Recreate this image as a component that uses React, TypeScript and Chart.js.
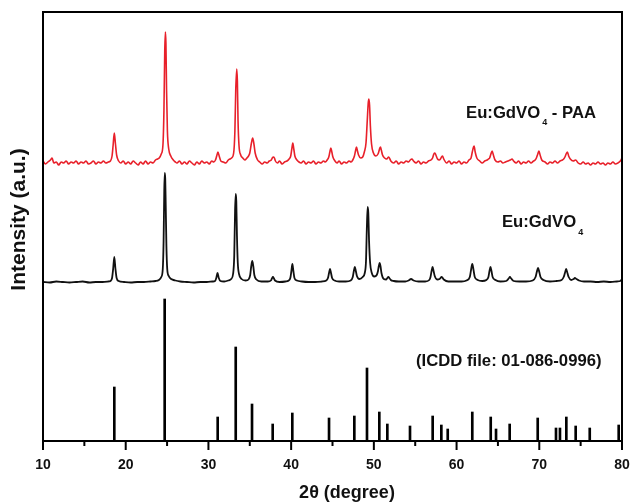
import { useEffect, useRef } from 'react';
import { Chart, registerables } from 'chart.js';

Chart.register(...registerables);

// ---------- axis ----------
const thetaMin = 10;
const thetaMax = 80;
const thetaStep = 10;
const minorTicks = [15, 25, 35, 45, 55, 65, 75];
const intensityMax = 429;

// ---------- reference pattern (ICDD 01-086-0996) ----------
const stickTheta = [18.62, 24.71, 31.12, 33.3, 35.27, 37.77, 40.14, 44.58, 47.64, 49.17, 50.66, 51.63, 54.37, 57.11, 58.16, 58.93, 61.9, 64.13, 64.77, 66.42, 69.81, 72.02, 72.5, 73.27, 74.4, 76.1, 79.6];
const stickIntensity = [54, 142, 24, 94, 37, 17, 28, 23, 25, 73, 29, 17, 15, 25, 16, 12, 29, 24, 12, 17, 23, 13, 13, 24, 15, 13, 16];

// ---------- Eu:GdVO4 (black) ----------
const gdvoPattern: [number, number][] = [
  [10.0, 159], [10.8, 158.5], [11.6, 159.5], [12.4, 159], [13.2, 158.5], [14.0, 159], [14.8, 159.5], [15.6, 158.5], [16.4, 159], [17.2, 159], [17.9, 159.5],
  [18.15, 160], [18.35, 163], [18.48, 172], [18.62, 184], [18.76, 172], [18.9, 163], [19.15, 160],
  [19.8, 159], [20.6, 158.5], [21.4, 159], [22.2, 159], [23.0, 159.5], [23.6, 160],
  [24.0, 161], [24.3, 164], [24.48, 172], [24.58, 200], [24.66, 250], [24.72, 268], [24.78, 262], [24.84, 235], [24.92, 195], [25.02, 172], [25.2, 165], [25.5, 162], [26.0, 160.5],
  [26.6, 159.5], [27.4, 159], [28.2, 158.5], [29.0, 159], [29.8, 159], [30.5, 159.5],
  [30.8, 160], [30.95, 163], [31.1, 168], [31.25, 163], [31.45, 160],
  [31.9, 159.5], [32.4, 160.5],
  [32.75, 162], [32.98, 167], [33.12, 185], [33.22, 230], [33.3, 247], [33.37, 240], [33.45, 205], [33.55, 178], [33.7, 167], [34.0, 162],
  [34.5, 160.5], [34.85, 161.5],
  [35.05, 166], [35.18, 175], [35.3, 180], [35.42, 175], [35.55, 166], [35.8, 161.5],
  [36.4, 159.5], [37.2, 159.5],
  [37.55, 160.5], [37.68, 162.5], [37.8, 164], [37.92, 162.5], [38.05, 160.5],
  [38.6, 159], [39.3, 159.5], [39.7, 160.5],
  [39.9, 163], [40.03, 170], [40.15, 177], [40.27, 170], [40.4, 163], [40.7, 160.5],
  [41.3, 159.5], [42.1, 159], [42.9, 159], [43.7, 159.5], [44.25, 160.5],
  [44.45, 163], [44.58, 168], [44.7, 172], [44.82, 168], [44.95, 163], [45.25, 160.5],
  [45.8, 159.5], [46.6, 159.5], [47.2, 160.5],
  [47.45, 164], [47.58, 170], [47.7, 174], [47.82, 170], [47.95, 165], [48.25, 162], [48.65, 164],
  [48.9, 168], [49.05, 180], [49.15, 212], [49.25, 234], [49.33, 228], [49.42, 200], [49.55, 178], [49.75, 168], [50.05, 164.5], [50.35, 166],
  [50.5, 170], [50.6, 175], [50.7, 178], [50.8, 175], [50.92, 168], [51.2, 162],
  [51.5, 161.5], [51.63, 163], [51.75, 164], [51.87, 163], [52.05, 161], [52.4, 160],
  [53.0, 159.5], [53.8, 159.5], [54.2, 160.5], [54.5, 162], [54.8, 160.5],
  [55.4, 159.5], [56.2, 159.5], [56.7, 161],
  [56.85, 164], [56.98, 170], [57.1, 174], [57.22, 170], [57.36, 165], [57.65, 161.5], [57.95, 162], [58.2, 164], [58.45, 161.5],
  [59.0, 159.5], [59.8, 159.5], [60.6, 159.5], [61.2, 160.5],
  [61.6, 164], [61.75, 171], [61.9, 177], [62.05, 171], [62.2, 164], [62.55, 161],
  [63.1, 160], [63.6, 161],
  [63.85, 164], [63.98, 170], [64.1, 174], [64.22, 170], [64.36, 164], [64.7, 161],
  [65.3, 159.5], [66.0, 160], [66.3, 162.5], [66.45, 164], [66.6, 162.5], [66.9, 160],
  [67.6, 159.5], [68.4, 159.5], [69.2, 160.5],
  [69.55, 164], [69.7, 169], [69.85, 173], [70.0, 169], [70.15, 164], [70.5, 161],
  [71.3, 159.5], [72.1, 160], [72.7, 161],
  [72.95, 164], [73.1, 168], [73.25, 172], [73.4, 168], [73.55, 164], [73.85, 161], [74.15, 162], [74.3, 163], [74.5, 162], [74.8, 160.5],
  [75.4, 159.5], [76.2, 159.5], [77.0, 159], [77.8, 159.5], [78.6, 159], [79.4, 159.5], [79.8, 160], [80.0, 162],
];

// ---------- Eu:GdVO4 - PAA (red) ----------
const gdvoPaaPattern: [number, number][] = [
  [10.0, 280], [10.3, 277], [10.6, 279], [10.9, 281], [11.1, 283], [11.3, 278], [11.6, 279], [11.9, 276], [12.2, 279], [12.5, 278], [12.8, 280], [13.1, 277], [13.4, 279], [13.7, 278], [14.0, 280], [14.3, 277], [14.6, 279], [14.9, 278], [15.2, 280], [15.5, 277], [15.8, 278], [16.1, 280], [16.4, 277], [16.7, 279], [17.0, 278], [17.3, 280], [17.6, 278], [17.9, 279],
  [18.15, 280], [18.35, 285], [18.48, 296], [18.62, 308], [18.76, 297], [18.9, 286], [19.15, 280],
  [19.4, 278], [19.7, 280], [20.0, 277], [20.3, 279], [20.6, 277], [20.9, 280], [21.2, 278], [21.5, 276], [21.8, 279], [22.1, 277], [22.4, 280], [22.7, 277], [23.0, 279], [23.3, 278], [23.6, 281], [23.85, 282],
  [24.05, 283], [24.3, 287], [24.5, 296], [24.62, 330], [24.72, 390], [24.8, 409], [24.86, 398], [24.94, 350], [25.04, 310], [25.2, 292], [25.45, 285], [25.75, 281],
  [26.0, 279], [26.2, 278], [26.5, 280], [26.8, 277], [27.1, 279], [27.4, 277], [27.7, 280], [28.0, 278], [28.3, 276], [28.6, 279], [28.9, 277], [29.2, 280], [29.5, 278], [29.8, 279], [30.1, 277], [30.4, 280], [30.65, 279],
  [30.85, 281], [31.0, 285], [31.15, 289], [31.3, 285], [31.5, 280],
  [31.8, 279], [32.1, 278], [32.4, 281], [32.6, 282],
  [32.8, 283], [33.05, 288], [33.2, 310], [33.3, 350], [33.42, 372], [33.5, 360], [33.58, 320], [33.7, 295], [33.9, 286], [34.15, 283],
  [34.4, 281], [34.65, 283], [34.85, 285],
  [35.0, 288], [35.2, 298], [35.35, 303], [35.5, 297], [35.65, 288], [35.95, 281],
  [36.2, 279], [36.5, 277], [36.8, 279], [37.1, 278], [37.35, 280],
  [37.6, 281], [37.72, 283], [37.85, 284], [37.98, 283], [38.1, 280],
  [38.35, 278], [38.6, 280], [38.9, 277], [39.2, 279], [39.5, 280], [39.75, 282],
  [39.95, 285], [40.08, 292], [40.2, 298], [40.32, 292], [40.45, 285], [40.7, 281],
  [40.95, 279], [41.2, 278], [41.5, 280], [41.8, 277], [42.1, 279], [42.4, 278], [42.7, 280], [43.0, 277], [43.3, 279], [43.6, 278], [43.9, 280], [44.15, 279], [44.35, 281],
  [44.55, 284], [44.68, 289], [44.8, 293], [44.92, 289], [45.05, 284], [45.3, 280],
  [45.55, 278], [45.8, 280], [46.1, 277], [46.4, 279], [46.7, 278], [47.0, 280], [47.25, 279], [47.45, 281],
  [47.65, 285], [47.78, 290], [47.9, 294], [48.02, 290], [48.15, 286], [48.4, 283], [48.65, 284], [48.85, 289],
  [49.05, 298], [49.2, 320], [49.32, 338], [49.4, 342], [49.48, 336], [49.58, 315], [49.72, 297], [49.95, 288], [50.25, 285], [50.5, 287],
  [50.62, 290], [50.72, 293], [50.8, 294], [50.9, 291], [51.05, 286], [51.3, 283], [51.55, 282], [51.8, 284], [52.05, 280],
  [52.4, 278], [52.7, 280], [53.0, 277], [53.3, 279], [53.6, 278], [53.9, 280], [54.2, 279], [54.4, 281], [54.6, 282], [54.8, 280], [55.1, 278], [55.4, 280], [55.7, 277], [56.0, 279], [56.3, 278], [56.6, 280], [56.9, 281],
  [57.1, 283], [57.25, 287], [57.38, 288], [57.5, 286], [57.7, 282], [57.9, 281], [58.05, 282], [58.18, 284], [58.3, 285], [58.45, 282],
  [58.8, 278], [59.1, 280], [59.4, 277], [59.7, 279], [60.0, 278], [60.3, 280], [60.6, 277], [60.9, 279], [61.2, 278], [61.5, 281],
  [61.75, 283], [61.9, 289], [62.05, 294], [62.12, 295], [62.25, 289], [62.45, 283],
  [62.8, 280], [63.1, 278], [63.4, 280], [63.7, 281], [63.85, 282],
  [64.0, 283], [64.15, 287], [64.3, 290], [64.45, 286], [64.65, 281],
  [65.0, 279], [65.3, 280], [65.6, 278], [65.9, 279], [66.2, 280], [66.5, 281], [66.7, 282], [66.9, 280],
  [67.2, 278], [67.5, 280], [67.8, 277], [68.1, 279], [68.4, 278], [68.7, 280], [69.0, 278], [69.3, 280], [69.5, 281],
  [69.65, 283], [69.82, 287], [69.96, 290], [70.1, 286], [70.3, 281],
  [70.7, 279], [71.0, 277], [71.3, 279], [71.6, 278], [71.9, 280], [72.2, 278], [72.5, 280], [72.8, 281], [72.95, 282],
  [73.1, 284], [73.25, 287], [73.4, 289], [73.55, 285], [73.75, 282], [74.1, 280], [74.4, 281],
  [74.7, 278], [75.0, 277], [75.3, 279], [75.6, 277], [75.9, 278], [76.2, 276], [76.5, 278], [76.8, 277], [77.1, 279], [77.4, 277], [77.7, 278], [78.0, 276], [78.3, 278], [78.6, 277], [78.9, 279], [79.2, 277], [79.5, 278], [79.8, 280], [80.0, 283],
];

// ---------- text ----------
const xTitle = '2θ (degree)';
const yTitle = 'Intensity (a.u.)';
type Part = { text: string; sub: boolean };
const annotations: { parts: Part[]; theta: number; value: number }[] = [
  { parts: [{ text: 'Eu:GdVO', sub: false }, { text: '4', sub: true }, { text: ' - PAA', sub: false }], theta: 61.14, value: 328 },
  { parts: [{ text: 'Eu:GdVO', sub: false }, { text: '4', sub: true }], theta: 65.49, value: 218.3 },
  { parts: [{ text: '(ICDD file: 01-086-0996)', sub: false }], theta: 55.1, value: 79.3 },
];

const FONT = 'Arial, "Liberation Sans", Helvetica, sans-serif';
const TEXT_COLOR = '#111';

const xrdPlugin = {
  id: 'xrdDecor',
  afterDraw(chart: any) {
    const { ctx, chartArea } = chart;
    const xs = chart.scales.x;
    const ys = chart.scales.y;
    ctx.save();
    // frame
    ctx.strokeStyle = '#000';
    ctx.lineWidth = 2;
    ctx.strokeRect(chartArea.left, chartArea.top, chartArea.right - chartArea.left, chartArea.bottom - chartArea.top);
    // major ticks (from the scale) and minor ticks
    xs.ticks.forEach((t: any) => {
      const px = xs.getPixelForValue(t.value);
      ctx.beginPath();
      ctx.moveTo(px, chartArea.bottom);
      ctx.lineTo(px, chartArea.bottom + 9);
      ctx.stroke();
    });
    minorTicks.forEach((v) => {
      const px = xs.getPixelForValue(v);
      ctx.beginPath();
      ctx.moveTo(px, chartArea.bottom);
      ctx.lineTo(px, chartArea.bottom + 5);
      ctx.stroke();
    });
    // annotations
    ctx.fillStyle = TEXT_COLOR;
    ctx.textBaseline = 'middle';
    ctx.textAlign = 'left';
    annotations.forEach((a) => {
      let px = xs.getPixelForValue(a.theta);
      const py = ys.getPixelForValue(a.value);
      a.parts.forEach((p) => {
        ctx.font = p.sub ? `bold 9px ${FONT}` : `bold 16.7px ${FONT}`;
        ctx.fillText(p.text, px + (p.sub ? 2 : 0), p.sub ? py + 9.5 : py);
        px += ctx.measureText(p.text).width + (p.sub ? 2 : 0);
      });
    });
    // axis titles
    ctx.font = `bold 18px ${FONT}`;
    ctx.textAlign = 'center';
    ctx.fillText(xTitle, 347, 493);
    ctx.translate(19.5, 219.5);
    ctx.rotate(-Math.PI / 2);
    ctx.font = `bold 21px ${FONT}`;
    ctx.fillText(yTitle, 0, 0);
    ctx.restore();
  },
};

export default function App() {
  const ref = useRef<HTMLCanvasElement | null>(null);

  useEffect(() => {
    document.body.style.margin = '0';
    const canvas = ref.current;
    if (!canvas) return;
    const chart = new Chart(canvas, {
      type: 'line',
      data: {
        datasets: [
          {
            type: 'line',
            label: 'Eu:GdVO4 - PAA',
            data: gdvoPaaPattern.map(([x, y]) => ({ x, y })),
            borderColor: '#e8202a',
            borderWidth: 1.6,
            pointRadius: 0,
            cubicInterpolationMode: 'monotone',
            fill: false,
          },
          {
            type: 'line',
            label: 'Eu:GdVO4',
            data: gdvoPattern.map(([x, y]) => ({ x, y })),
            borderColor: '#111',
            borderWidth: 1.8,
            pointRadius: 0,
            cubicInterpolationMode: 'monotone',
            fill: false,
          },
          {
            type: 'bar',
            label: 'ICDD 01-086-0996',
            data: stickTheta.map((x, i) => ({ x, y: stickIntensity[i] })),
            backgroundColor: '#000',
            borderWidth: 0,
            barThickness: 2,
          } as any,
        ],
      },
      options: {
        animation: false,
        responsive: false,
        events: [],
        layout: { padding: { top: 12, right: 9, left: 0, bottom: 0 } },
        plugins: { legend: { display: false }, tooltip: { enabled: false } },
        scales: {
          x: {
            type: 'linear',
            min: thetaMin,
            max: thetaMax,
            offset: false,
            afterFit: (s: any) => { s.height = 63; s.paddingLeft = 0; s.paddingRight = 0; },
            ticks: {
              stepSize: thetaStep,
              color: TEXT_COLOR,
              padding: 7,
              font: { family: FONT, size: 14, weight: 'bold' },
              maxRotation: 0,
            },
            grid: { display: false, drawTicks: true, tickLength: 9 },
            border: { display: false },
          },
          y: {
            type: 'linear',
            min: 0,
            max: intensityMax,
            afterFit: (s: any) => { s.width = 43; },
            ticks: { display: false },
            grid: { display: false },
            border: { display: false },
          },
        },
      },
      plugins: [xrdPlugin],
    } as any);
    return () => chart.destroy();
  }, []);

  return <canvas ref={ref} width={631} height={504} style={{ display: 'block' }} />;
}
